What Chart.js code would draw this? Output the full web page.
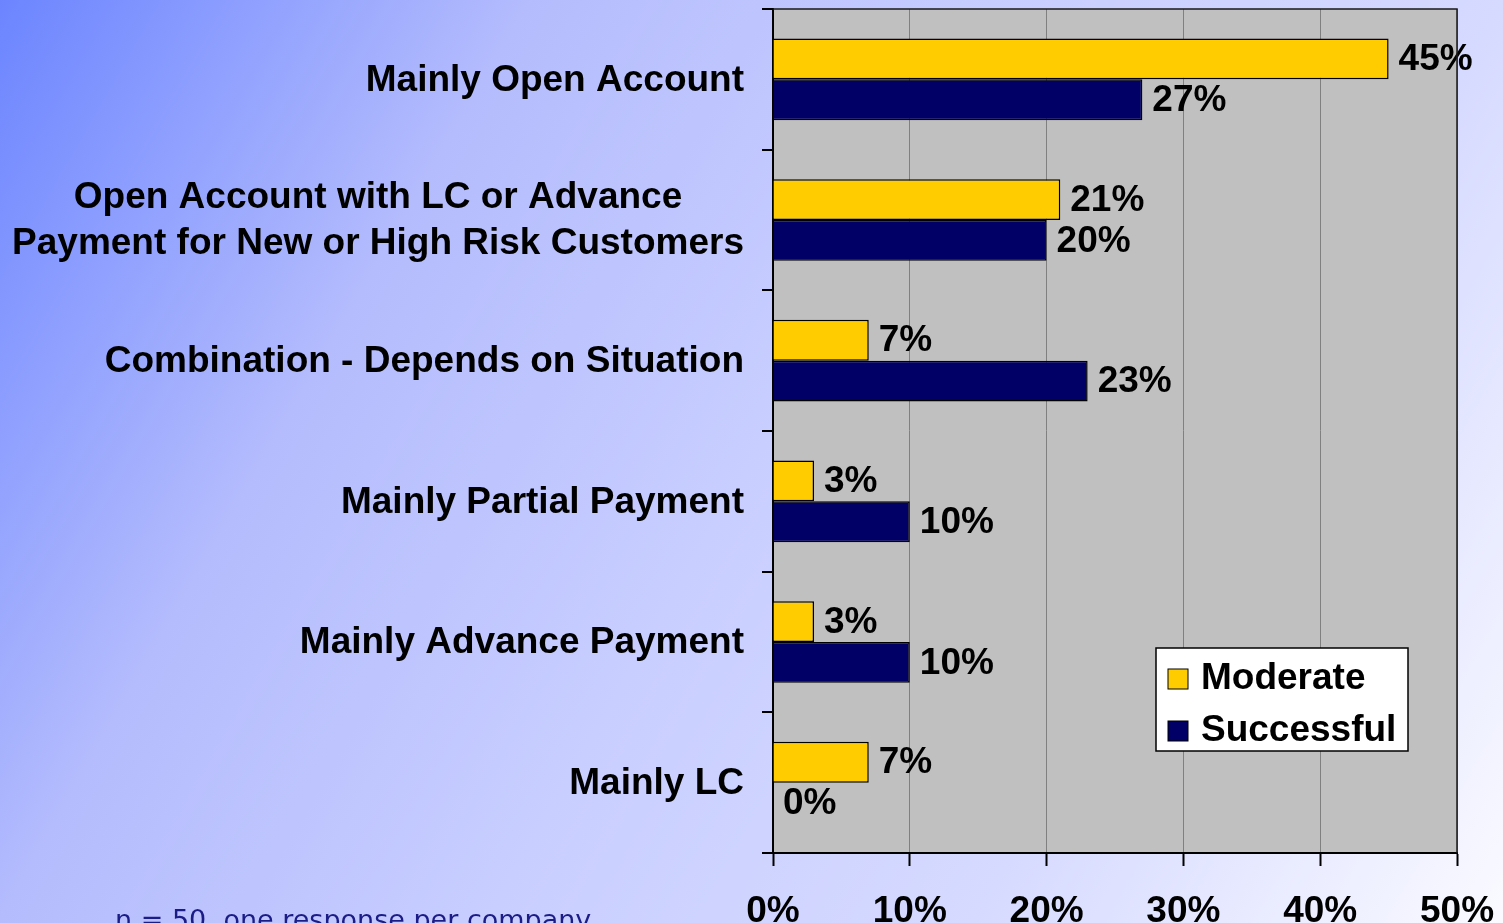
<!DOCTYPE html>
<html>
<head>
<meta charset="utf-8">
<script src="https://cdn.jsdelivr.net/npm/chart.js@4.4.1/dist/chart.umd.min.js"></script>
<style>
  html, body {
    margin: 0;
    padding: 0;
    width: 1503px;
    height: 923px;
    overflow: hidden;
  }
  body {
    position: relative;
    background: linear-gradient(120deg, #6c85ff 0%, #b4bcfd 26%, #c8ceff 50%, #d6daff 74%, #fafaff 100%);
  }
  #chart {
    position: absolute;
    left: 0;
    top: 0;
  }
  .note {
    position: absolute;
    left: 115px;
    top: 906px;
    font: 27px/1 "DejaVu Sans", sans-serif;
    color: #1c1c86;
    white-space: nowrap;
  }
</style>
</head>
<body>
<canvas id="chart" width="1503" height="960"></canvas>
<div class="note">n = 50, one response per company</div>

<script>
// CHART DATA
const categories = [
  "Mainly Open Account",
  ["Open Account with LC or Advance", "Payment for New or High Risk Customers"],
  "Combination - Depends on Situation",
  "Mainly Partial Payment",
  "Mainly Advance Payment",
  "Mainly LC",
];
const seriesNames = ["Moderate", "Successful"];
const moderateValues = [45, 21, 7, 3, 3, 7];
const successfulValues = [27, 20, 23, 10, 10, 0];
const xTickValues = [0, 10, 20, 30, 40, 50];

const FONT = "Liberation Sans, Arial, sans-serif";

// GRAY PLOT AREA + TOP/RIGHT FRAME
const plotArea = {
  id: "plotArea",
  beforeDraw(chart) {
    const { ctx, chartArea: a } = chart;
    ctx.save();
    ctx.fillStyle = "#c0c0c0";
    ctx.fillRect(a.left, a.top, a.right - a.left, a.bottom - a.top);
    ctx.restore();
  },
  afterDraw(chart) {
    const { ctx, chartArea: a } = chart;
    ctx.save();
    ctx.strokeStyle = "#1a1a1a";
    ctx.lineWidth = 1.5;
    ctx.beginPath();
    ctx.moveTo(a.left, a.top);
    ctx.lineTo(a.right, a.top);
    ctx.lineTo(a.right, a.bottom);
    ctx.stroke();
    ctx.restore();
  },
};

// CATEGORY LABELS AND TICK MARKS ON THE LEFT
const categoryLabels = {
  id: "categoryLabels",
  afterDraw(chart) {
    const { ctx, chartArea: a } = chart;
    const yScale = chart.scales.y;
    const step = (a.bottom - a.top) / categories.length;
    ctx.save();

    // tick marks between categories
    ctx.strokeStyle = "#000";
    ctx.lineWidth = 2;
    for (let i = 0; i <= categories.length; i++) {
      const y = Math.round(a.top + i * step);
      ctx.beginPath();
      ctx.moveTo(a.left - 11, y);
      ctx.lineTo(a.left, y);
      ctx.stroke();
    }

    ctx.fillStyle = "#000";
    ctx.font = `bold 37px ${FONT}`;
    ctx.textBaseline = "middle";
    ctx.textAlign = "center";
    const rightEdge = a.left - 29;
    const lineHeight = 46;

    categories.forEach((label, i) => {
      const lines = Array.isArray(label) ? label : [label];
      const blockWidth = Math.max(...lines.map((l) => ctx.measureText(l).width));
      const cx = rightEdge - blockWidth / 2;
      const cy = yScale.getPixelForValue(i) + 1;
      const startY = cy - ((lines.length - 1) * lineHeight) / 2;
      lines.forEach((line, j) => {
        ctx.fillText(line, cx, startY + j * lineHeight);
      });
    });
    ctx.restore();
  },
};

// VALUE LABELS AT BAR ENDS
const valueLabels = {
  id: "valueLabels",
  afterDatasetsDraw(chart) {
    const { ctx } = chart;
    ctx.save();
    ctx.fillStyle = "#000";
    ctx.font = `bold 37px ${FONT}`;
    ctx.textBaseline = "middle";
    ctx.textAlign = "left";
    chart.data.datasets.forEach((ds, di) => {
      const meta = chart.getDatasetMeta(di);
      meta.data.forEach((bar, i) => {
        ctx.fillText(`${ds.data[i]}%`, bar.x + 10, bar.y + 1);
      });
    });
    ctx.restore();
  },
};

// LEGEND BOX INSIDE THE PLOT
const legendBox = {
  id: "legendBox",
  afterDraw(chart) {
    const { ctx, chartArea: a } = chart;
    const left = a.left + 383;
    const top = a.top + 639;
    const w = 252;
    const h = 103;
    ctx.save();
    ctx.fillStyle = "#fff";
    ctx.fillRect(left, top, w, h);
    ctx.strokeStyle = "#000";
    ctx.lineWidth = 1.5;
    ctx.strokeRect(left, top, w, h);

    ctx.font = `bold 37px ${FONT}`;
    ctx.textBaseline = "middle";
    ctx.textAlign = "left";
    chart.data.datasets.forEach((ds, i) => {
      const cy = top + 31 + i * 52;
      ctx.fillStyle = ds.backgroundColor;
      ctx.fillRect(left + 12, cy - 10, 20, 20);
      ctx.lineWidth = 1;
      ctx.strokeRect(left + 12, cy - 10, 20, 20);
      ctx.fillStyle = "#000";
      ctx.fillText(ds.label, left + 45, cy);
    });
    ctx.restore();
  },
};

new Chart(document.getElementById("chart"), {
  type: "bar",
  data: {
    labels: categories,
    datasets: [
      {
        label: seriesNames[0],
        data: moderateValues,
        backgroundColor: "#ffcc00",
        borderColor: "#000",
        borderWidth: 1.5,
      },
      {
        label: seriesNames[1],
        data: successfulValues,
        backgroundColor: "#000066",
        borderColor: "#000",
        borderWidth: 1.5,
      },
    ],
  },
  options: {
    indexAxis: "y",
    responsive: false,
    animation: false,
    devicePixelRatio: 1,
    layout: { padding: { left: 773, top: 9, right: 46, bottom: 0 } },
    datasets: {
      bar: { barPercentage: 1, categoryPercentage: 0.58 },
    },
    scales: {
      x: {
        min: 0,
        max: 50,
        afterBuildTicks: (scale) => {
          scale.ticks = xTickValues.map((v) => ({ value: v }));
        },
        afterFit: (scale) => {
          scale.height = 107;
          scale.paddingLeft = 0;
          scale.paddingRight = 0;
        },
        ticks: {
          callback: (value) => `${value}%`,
          color: "#000",
          padding: 24,
          maxRotation: 0,
          font: { family: FONT, size: 37, weight: "bold" },
        },
        grid: {
          color: "#808080",
          lineWidth: 1,
          tickLength: 13,
          tickColor: "#000",
          tickWidth: 2,
        },
        border: { color: "#000", width: 2 },
      },
      y: {
        afterFit: (scale) => {
          scale.width = 0;
        },
        ticks: { display: false },
        grid: { display: false },
        border: { color: "#000", width: 2 },
      },
    },
    plugins: {
      legend: { display: false },
      tooltip: { enabled: false },
    },
  },
  plugins: [plotArea, categoryLabels, valueLabels, legendBox],
});
</script>
</body>
</html>
